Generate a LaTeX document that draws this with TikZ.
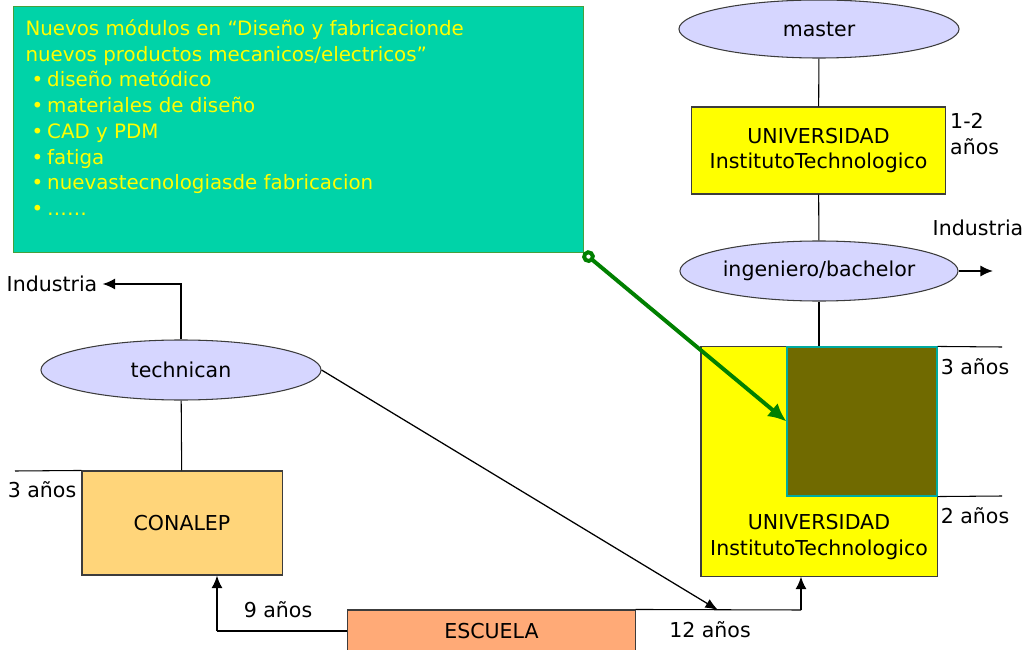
\documentclass[tikz,border=0pt]{standalone}
\usepackage{fontspec}
\setmainfont{DejaVu Sans}
\usetikzlibrary{shapes.geometric,arrows.meta,calc}

\definecolor{topicgreen}{RGB}{0,211,168}
\definecolor{topicedge}{RGB}{70,160,60}
\definecolor{lavender}{RGB}{214,214,255}
\definecolor{uniyellow}{RGB}{255,255,0}
\definecolor{conalepfill}{RGB}{255,213,122}
\definecolor{escuelafill}{RGB}{255,170,119}
\definecolor{olive}{RGB}{112,106,0}
\definecolor{oliveedge}{RGB}{0,170,160}
\definecolor{arrowgreen}{RGB}{0,128,0}
\definecolor{edgegray}{RGB}{60,60,60}

\begin{document}
\begin{tikzpicture}[x=0.025cm, y=-0.025cm,
    every node/.style={font=\fontsize{14.6}{18.3}\selectfont},
    every path/.style={line width=0.75pt},
    degree/.style={ellipse, draw=edgegray, fill=lavender, inner sep=0pt, minimum width=7cm, minimum height=1.5cm},
    school/.style={rectangle, draw=edgegray, inner sep=0pt, align=center},
    arr/.style={-{Latex[length=9pt,width=8pt]}, line width=1.4pt}]

            \useasboundingbox (0,0) rectangle (1022,650);

            % Nodes
            \node[degree, minimum height=1.45cm] (master) at (819,29) {master};
            \node[school, fill=uniyellow, minimum width=6.325cm, minimum height=2.175cm] (univa) at (818.5,150.5) {UNIVERSIDAD\\InstitutoTechnologico};
            \node[degree, minimum width=6.95cm] (ingeniero) at (819,271) {ingeniero/bachelor};
            \node[school, fill=uniyellow, minimum width=5.9cm, minimum height=5.725cm] (univb) at (819,461.5) {};
            \node[school, draw=oliveedge, fill=olive, minimum width=3.75cm, minimum height=3.725cm] (dark) at (862,421.5) {};
            \node[align=center] (univbtext) at (819,537) {UNIVERSIDAD\\InstitutoTechnologico};

            \node[degree] (technican) at (181,370) {technican};
            \node[school, fill=conalepfill, minimum width=5cm, minimum height=2.6cm] (conalep) at (182,523) {CONALEP};
            \node[school, fill=escuelafill, minimum width=7.175cm, minimum height=1.05cm] (escuela) at (491.5,631) {ESCUELA};

            \node[rectangle, draw=topicedge, fill=topicgreen, minimum width=14.225cm, minimum height=6.125cm] (modulos) at (298.5,129.5) {};
            \node[anchor=north west, inner sep=0pt, align=left, text=uniyellow, font=\fontsize{14.1}{18.3}\selectfont] (modulostext) at (25,19)
                {Nuevos módulos en “Diseño y fabricacionde\\
                 nuevos productos mecanicos/electricos”\\
                 \hspace*{0.15cm}•\hspace{0.1cm}diseño metódico\\
                 \hspace*{0.15cm}•\hspace{0.1cm}materiales de diseño\\
                 \hspace*{0.15cm}•\hspace{0.1cm}CAD y PDM\\
                 \hspace*{0.15cm}•\hspace{0.1cm}fatiga\\
                 \hspace*{0.15cm}•\hspace{0.1cm}nuevastecnologiasde fabricacion\\
                 \hspace*{0.15cm}•\hspace{0.1cm}……};

            \node (indl) at (52,284) {Industria};
            \node (indr) at (978,228) {Industria};

            \coordinate (indrend) at (993,271);
            \coordinate (a9) at (217,631);
            \coordinate (a12) at (801,610);
            \coordinate (c12) at (718,610);
            \coordinate (tickl) at (15,471);
            \coordinate (tickr3) at (1002,347);
            \coordinate (tickr2) at (1002,496);

            % Lines
            \draw (master) -- (univa);
            \draw (univa) -- (ingeniero);
            \draw (ingeniero.south) -- (univb.north);
            \draw (technican) -- (conalep);

            \draw (tickl) -- (conalep.north west);
            \draw (univb.north east) -- (tickr3);
            \draw (dark.south east) -- (tickr2);

            \draw (escuela.west) -- (a9);
            \draw[arr] (a9) -- (a9 |- conalep.south);
            \draw (escuela.north east) -- (a12);
            \draw[arr] (a12) -- (a12 |- univb.south);
            \draw[-{Latex[length=9pt,width=7pt]}, line width=0.9pt] (technican.east) -- (c12);

            \draw[arr] (technican.north) |- (indl.east);
            \draw[arr] (ingeniero.east) -- (indrend);

            \draw[arrowgreen, line width=2.8pt, {Circle[open,length=9pt,fill=white]}-{Latex[length=13pt,width=12pt]}] (modulos.south east) -- (dark.west);

            % Labels
            \node[anchor=west, align=left] at (945,134) {1-2\\años};
            \node at (975,367) {3 años};
            \node at (975,516) {2 años};
            \node at (42,490) {3 años};
            \node at (278,610) {9 años};
            \node at (710,630) {12 años};

        \end{tikzpicture}
\end{document}
